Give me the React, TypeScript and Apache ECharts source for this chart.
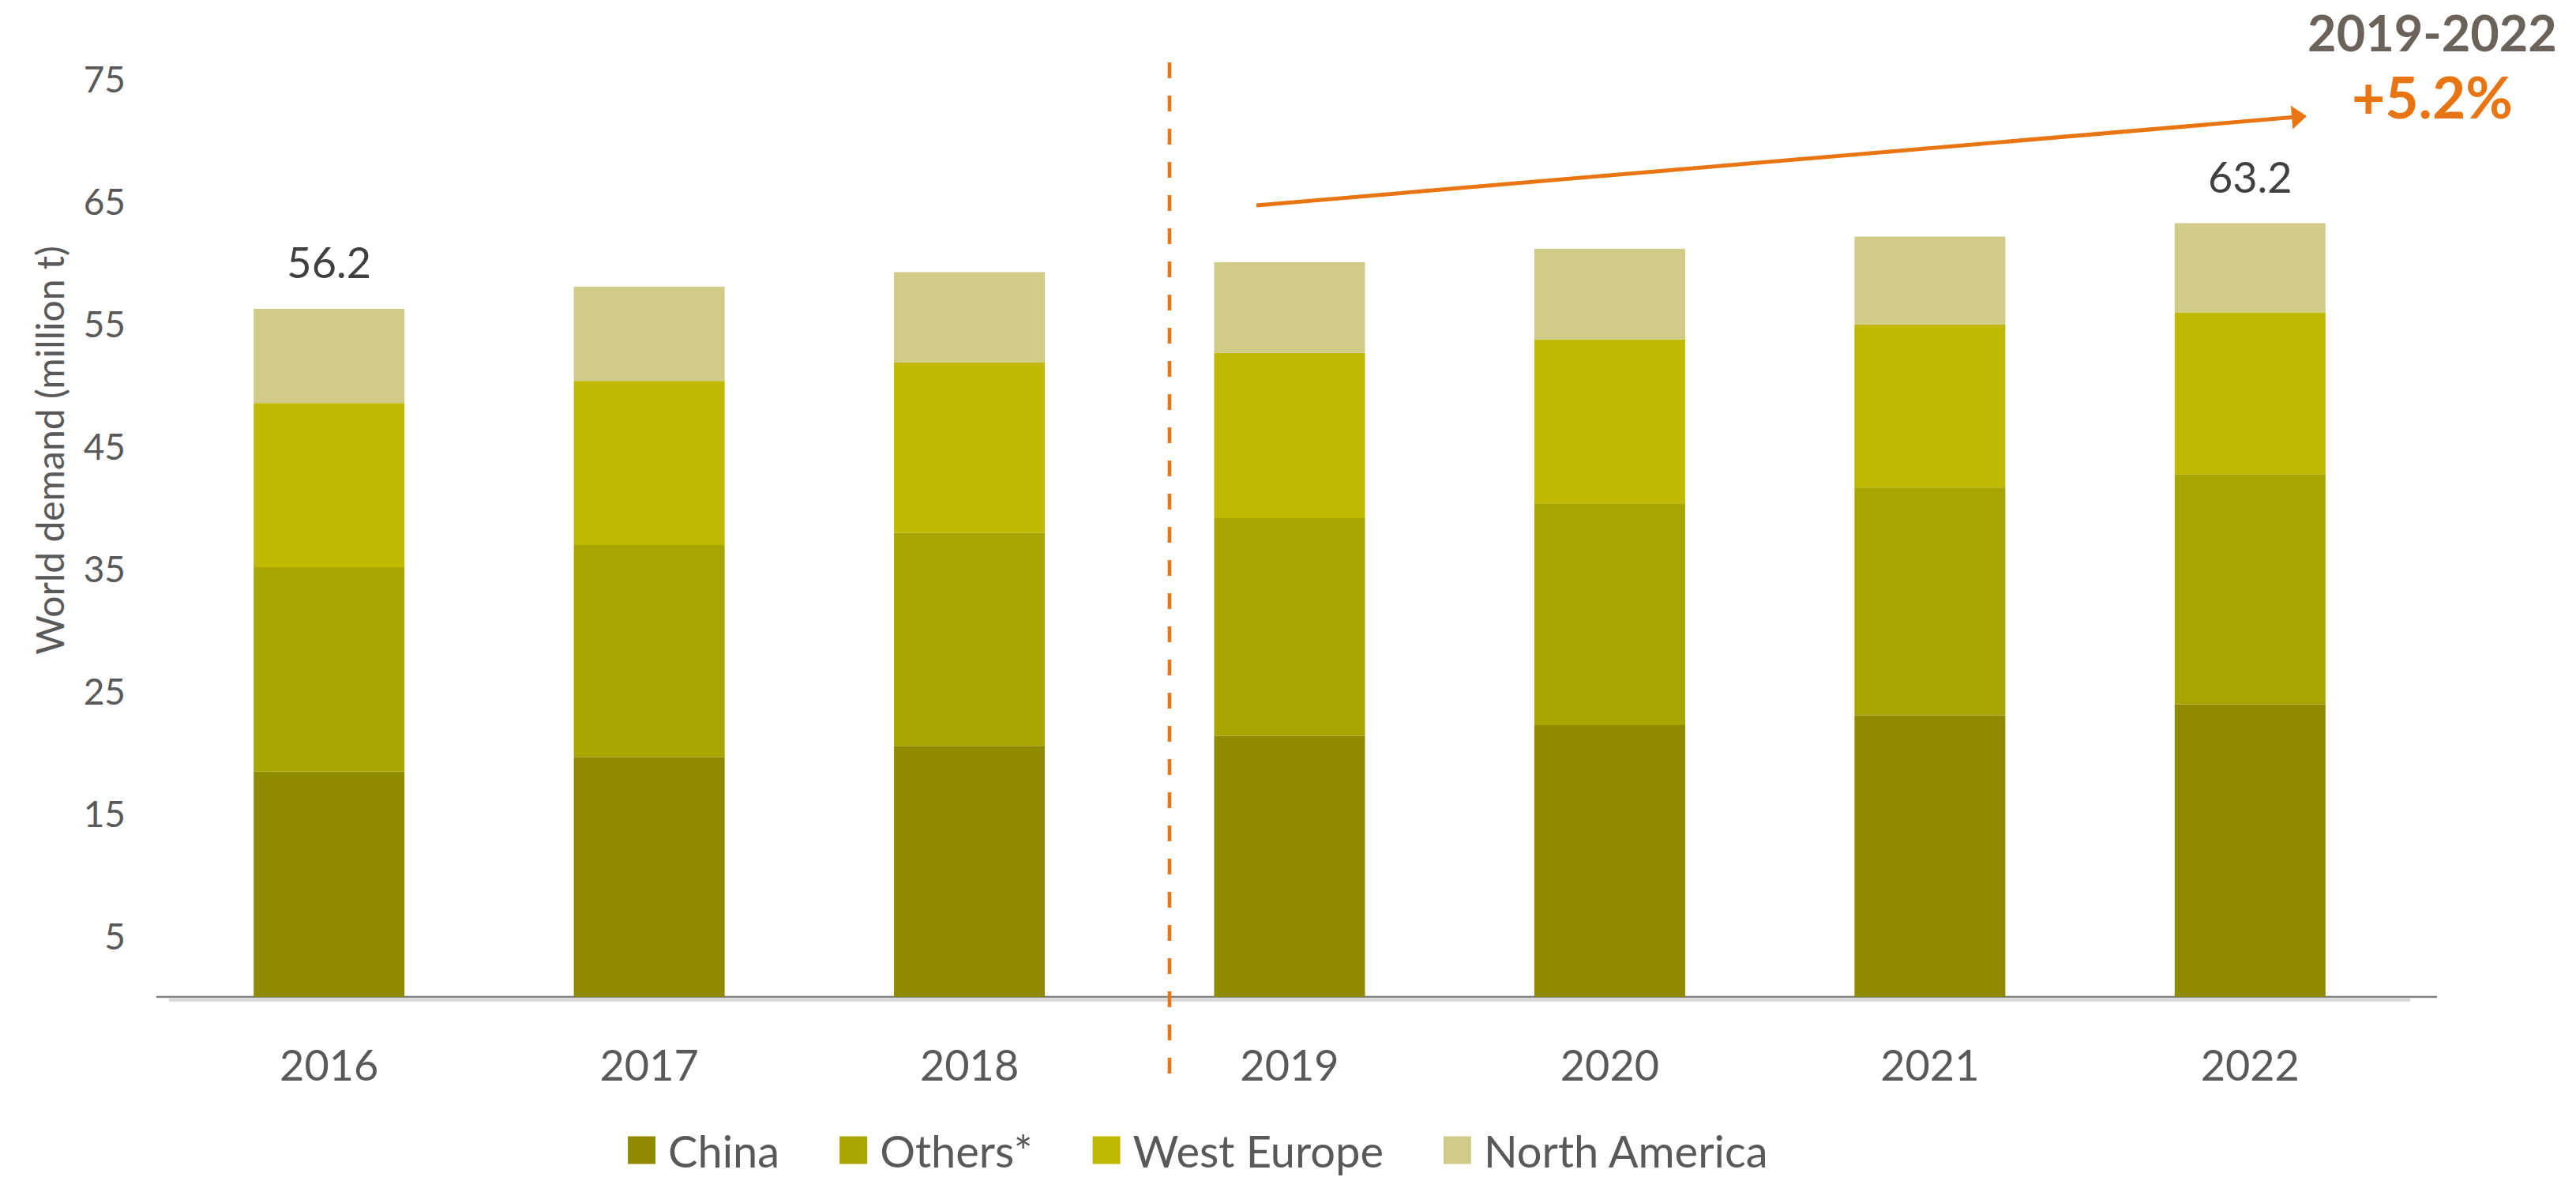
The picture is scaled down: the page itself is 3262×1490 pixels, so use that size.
import React, { useEffect, useRef } from "react";
import * as echarts from "echarts";

const years = ["2016", "2017", "2018", "2019", "2020", "2021", "2022"];
const china = [18.4, 19.6, 20.5, 21.3, 22.2, 23.0, 23.9];
const others = [16.7, 17.3, 17.4, 17.8, 18.1, 18.6, 18.8];
const westEurope = [13.4, 13.4, 13.9, 13.5, 13.4, 13.3, 13.2];
const northAmerica = [7.7, 7.7, 7.4, 7.4, 7.4, 7.2, 7.3];
const seriesNames = ["China", "Others*", "West Europe", "North America"];
const yTicks = [5, 15, 25, 35, 45, 55, 65, 75];
const labeledYears = ["2016", "2022"];
const periodLabel = "2019-2022";
const growthLabel = "+5.2%";
const yAxisTitle = "World demand (million t)";

const FONT = "Lato, 'Open Sans', sans-serif";
const COLORS = ["#8F8A00", "#A8A400", "#BFB900", "#D0CB87"];
const ORANGE = "#E87511";

export default function App() {
  const ref = useRef<HTMLDivElement>(null);

  useEffect(() => {
    if (!ref.current) return;
    const chart = echarts.init(ref.current, null, { renderer: "svg" });
    const values = [china, others, westEurope, northAmerica];
    const totals = years.map((_, i) => values.reduce((s, arr) => s + arr[i], 0));

    // arrow geometry
    const sx = 1591, sy = 260, tx = 2921, ty = 147;
    const dx = tx - sx, dy = ty - sy;
    const len = Math.sqrt(dx * dx + dy * dy);
    const ux = dx / len, uy = dy / len;
    const headLen = 19, headHalf = 15;
    const bx = tx - ux * headLen, by = ty - uy * headLen;
    const px = -uy, py = ux;

    const option: any = {
      animation: false,
      grid: { left: 214, right: 210, top: 99.5, bottom: 228 },
      xAxis: {
        type: "category",
        data: years,
        axisLine: { show: false },
        axisTick: { show: false },
        axisLabel: { margin: 58, fontSize: 54, color: "#595959", fontFamily: FONT },
      },
      yAxis: {
        type: "value",
        min: 0,
        max: 75,
        splitLine: { show: false },
        axisLine: { show: false },
        axisTick: { show: false },
        axisLabel: {
          customValues: yTicks,
          margin: 55,
          fontSize: 46,
          color: "#595959",
          fontFamily: FONT,
        },
      },
      legend: {
        data: seriesNames,
        left: 795,
        top: 1428,
        padding: 0,
        icon: "rect",
        itemWidth: 35,
        itemHeight: 35,
        itemGap: 76,
        textStyle: { fontSize: 56, color: "#595959", fontFamily: FONT, padding: [0, 0, 0, 11] },
      },
      series: seriesNames.map((name, si) => ({
        name,
        type: "bar",
        stack: "total",
        barWidth: 191,
        data: values[si],
        itemStyle: { color: COLORS[si] },
        label:
          si === 3
            ? {
                show: true,
                position: "top",
                distance: 32,
                fontSize: 54,
                color: "#404040",
                fontFamily: FONT,
                formatter: (p: any) =>
                  labeledYears.includes(years[p.dataIndex]) ? totals[p.dataIndex].toFixed(1) : "",
              }
            : { show: false },
      })),
      graphic: [
        {
          type: "line",
          z: 1,
          shape: { x1: 214, y1: 1266, x2: 3052, y2: 1266 },
          style: { stroke: "#D9D9D9", lineWidth: 4 },
        },
        {
          type: "line",
          z: 1,
          shape: { x1: 198, y1: 1262, x2: 3086, y2: 1262 },
          style: { stroke: "#7F7F7F", lineWidth: 2.5 },
        },
        {
          type: "line",
          z: 10,
          shape: { x1: 1481, y1: 79, x2: 1481, y2: 1365 },
          style: { stroke: ORANGE, lineWidth: 4.5, lineDash: [20, 22] },
        },
        {
          type: "line",
          z: 10,
          shape: { x1: sx, y1: sy, x2: bx, y2: by },
          style: { stroke: ORANGE, lineWidth: 5 },
        },
        {
          type: "polygon",
          z: 10,
          shape: {
            points: [
              [tx, ty],
              [bx + px * headHalf, by + py * headHalf],
              [bx - px * headHalf, by - py * headHalf],
            ],
          },
          style: { fill: ORANGE },
        },
        {
          type: "text",
          z: 10,
          x: 3080,
          y: 40,
          style: {
            text: periodLabel,
            font: `bold 63px ${FONT}`,
            fill: "#6B6259",
            textAlign: "center",
            textVerticalAlign: "middle",
          },
        },
        {
          type: "text",
          z: 10,
          x: 3080,
          y: 122,
          style: {
            text: growthLabel,
            font: `bold 73px ${FONT}`,
            fill: ORANGE,
            textAlign: "center",
            textVerticalAlign: "middle",
          },
        },
        {
          type: "text",
          z: 10,
          x: 62,
          y: 570,
          rotation: Math.PI / 2,
          style: {
            text: yAxisTitle,
            font: `48px ${FONT}`,
            fill: "#595959",
            textAlign: "center",
            textVerticalAlign: "middle",
          },
        },
      ],
    };
    chart.setOption(option);
    return () => chart.dispose();
  }, []);

  return (
    <div
      ref={ref}
      style={{ position: "absolute", left: 0, top: 0, width: 3262, height: 1490 }}
    />
  );
}
